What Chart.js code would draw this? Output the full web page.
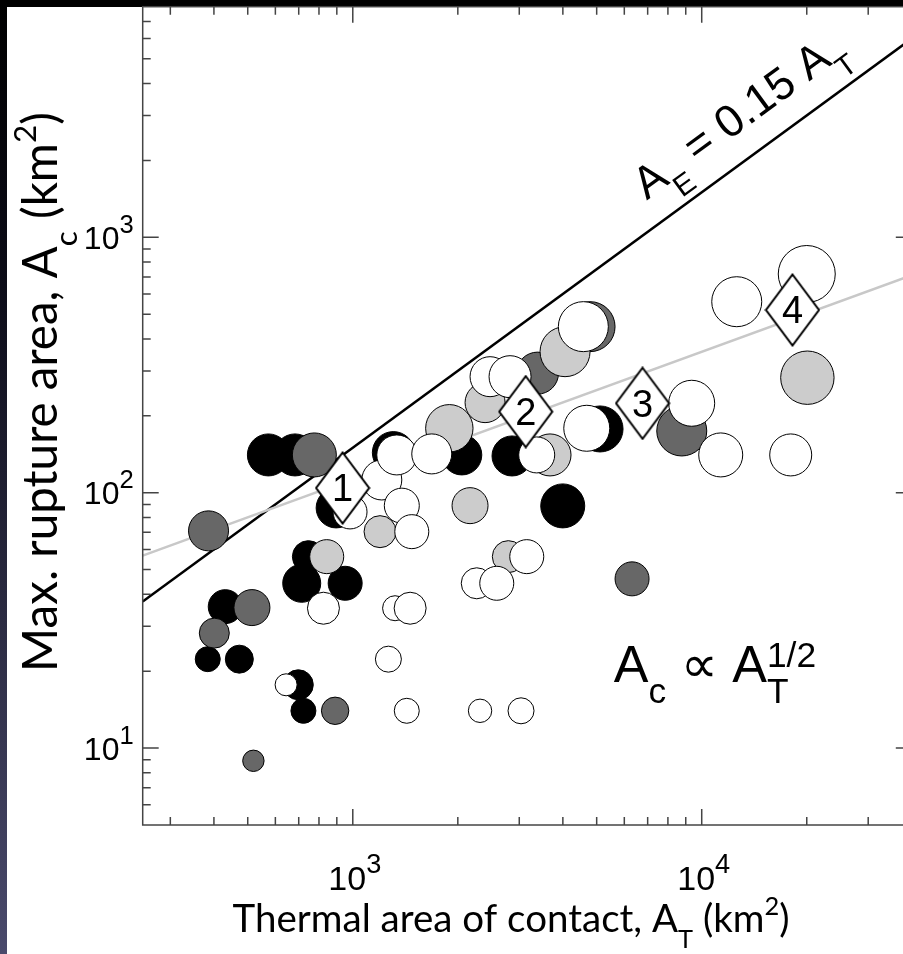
<!DOCTYPE html>
<html>
<head>
<meta charset="utf-8">
<script src="https://cdn.jsdelivr.net/npm/chart.js@4.4.1/dist/chart.umd.min.js"></script>
<style>
html, body { margin: 0; padding: 0; background: #fff; overflow: hidden; }
#wrap { position: relative; width: 903px; height: 954px; overflow: hidden; }
#rupture { display: block; position: absolute; left: 0; top: 0; }
</style>
</head>
<body>
<div id="wrap"><canvas id="rupture" width="960" height="954"></canvas></div>
<script>
// axis ranges, km^2
const x_min = 250
const x_max = 40000
const y_min = 5
const y_max = 8000
const x_tick_values = [1000, 10000]
const y_tick_values = [10, 100, 1000]

// events grouped by fill shade: thermal area A_T, max rupture area A_c, bubble size
const black_x = [573, 683, 896, 1307, 2053, 2860, 5112, 3997, 746, 714, 951, 431, 384, 473, 698, 722]
const black_y = [140.6, 140.6, 87.2, 143.6, 140.6, 139.3, 177.7, 88.8, 56.2, 44.2, 44.2, 35.8, 22.3, 22.3, 17.7, 14.0]
const black_r = [21, 21, 20, 21, 20, 20, 23, 22, 16, 19, 17, 17, 12.5, 14, 15, 12.5]

const dark_x = [776, 386, 514, 401, 890, 519, 3384, 4786, 8766, 6315]
const dark_y = [140.6, 70.9, 35.5, 28.2, 14.0, 8.92, 294, 447, 174.5, 46.0]
const dark_r = [22, 20, 18, 15, 13.7, 10.7, 21, 25, 25, 17]

const light_x = [1891, 2394, 4058, 3675, 2168, 1197, 842, 2791, 20080]
const light_y = [178.8, 225.3, 356.7, 140.6, 89.0, 70.4, 56.2, 56.2, 282.1]
const light_r = [23.7, 20, 25, 21, 18, 16, 17, 16, 26.7]

const white_x = [1211, 982, 1337, 1684, 2474, 2823, 4579, 4683, 3366, 1382, 1476, 3152, 2266, 2586,
    824, 1322, 1460, 1265, 644, 1428, 2316, 3035, 9360, 11336, 17990, 12600, 20000]
const white_y = [112.2, 84.1, 140.6, 141.9, 284.7, 284.7, 447, 178.8, 140.6, 89.0, 70.4, 56.2, 44.2, 44.2,
    35.3, 35.3, 35.3, 22.3, 17.7, 14.0, 14.0, 14.0, 224, 140.6, 140.6, 559.7, 718.5]
const white_r = [20, 17, 20, 20, 20, 21, 25, 23, 18, 17.5, 17, 17, 15.5, 17,
    16, 12.5, 16, 13, 11, 12.5, 11.7, 13, 23, 22, 21, 25, 28.5]

// numbered cases
const case_x = [935, 3131, 6767, 18200]
const case_y = [104.4, 207.7, 224, 519.5]
const case_labels = ['1', '2', '3', '4']

// reference lines
const line_x = [250, 40000]
const fit_y = [56.7, 711]       // A_c ~ A_T^(1/2)
const limit_y = [37.5, 6000]    // A_E = 0.15 A_T
const limit_label_at = 7700     // A_T where the line label sits
const fit_label_at = [5600, 18.2]


const tick_font = '"Liberation Sans", Arial, sans-serif'
const title_font = 'Lato, "Open Sans", sans-serif'
const note_font = '"Liberation Sans", "DejaVu Sans", sans-serif'

function points(xs, ys, rs) {
    return xs.map((x, i) => rs ? {x: x, y: ys[i], r: rs[i]} : {x: x, y: ys[i]})
}

function log_ticks(min, max) {
    const out = []
    for (let e = Math.floor(Math.log10(min)); e <= Math.ceil(Math.log10(max)); e++) {
        for (let k = 1; k <= 9; k++) {
            const v = k * Math.pow(10, e)
            if (v > min * 1.001 && v < max * 0.999) out.push({value: v, major: k === 1})
        }
    }
    return out
}

function diamond_image(w, h) {
    const c = document.createElement('canvas')
    c.width = w
    c.height = h
    const g = c.getContext('2d')
    g.beginPath()
    g.moveTo(w / 2, 1.5)
    g.lineTo(w - 1.5, h / 2)
    g.lineTo(w / 2, h - 1.5)
    g.lineTo(1.5, h / 2)
    g.closePath()
    g.fillStyle = '#fff'
    g.fill()
    g.lineWidth = 2
    g.strokeStyle = '#000'
    g.stroke()
    return c
}

// pieces: [text, kind, hold]; kind is '', 'sub' or 'sup'; hold keeps the pen where it is
function rich_layout(ctx, pieces, size, family, o) {
    o = Object.assign({scale: 0.66, drop: 0.42, raise: 0.45}, o || {})
    let pen = 0
    let total = 0
    const parts = pieces.map(([t, kind, hold]) => {
        const s = kind ? size * o.scale : size
        ctx.font = s + 'px ' + family
        const w = ctx.measureText(t).width
        const dy = kind === 'sub' ? size * o.drop : kind === 'sup' ? -size * o.raise : 0
        const p = {t: t, s: s, dx: pen, dy: dy}
        total = Math.max(total, pen + w)
        if (!hold) pen += w
        return p
    })
    return {parts: parts, width: total}
}

function draw_rich(ctx, pieces, x, y, size, family, align, angle, o) {
    const lay = rich_layout(ctx, pieces, size, family, o)
    const start = align === 'center' ? -lay.width / 2 : align === 'right' ? -lay.width : 0
    ctx.save()
    ctx.translate(x, y)
    ctx.rotate(angle || 0)
    ctx.textAlign = 'left'
    ctx.textBaseline = 'alphabetic'
    ctx.fillStyle = '#000'
    for (const p of lay.parts) {
        ctx.font = p.s + 'px ' + family
        ctx.fillText(p.t, start + p.dx, p.dy)
    }
    ctx.restore()
}

function fit_size(ctx, pieces, family, target) {
    return 100 * target / rich_layout(ctx, pieces, 100, family).width
}

const y_title = [['Max. rupture area, A', ''], ['c', 'sub'], [' (km', ''], ['2', 'sup'], [')', '']]
const x_title = [['Thermal area of contact, A', ''], ['T', 'sub'], [' (km', ''], ['2', 'sup'], [')', '']]
const limit_text = [['A', ''], ['E', 'sub'], [' = 0.15 A', ''], ['T', 'sub']]
const fit_text = [['A', ''], ['c', 'sub'], [' \u221D A', ''], ['1/2', 'sup', true], ['T', 'sub']]
const tick_sup = {scale: 0.8, raise: 0.5}

const backdrop = {
    id: 'backdrop',
    beforeDraw(chart) {
        const ctx = chart.ctx
        ctx.save()
        ctx.fillStyle = '#fff'
        ctx.fillRect(0, 0, chart.width, chart.height)
        ctx.fillStyle = '#000'
        ctx.fillRect(0, 0, chart.width, 7)
        const g = ctx.createLinearGradient(0, 0, 0, chart.height)
        g.addColorStop(0, '#000')
        g.addColorStop(0.3, '#0c0c18')
        g.addColorStop(1, '#4a4a6c')
        ctx.fillStyle = g
        ctx.fillRect(0, 0, 7, chart.height)
        ctx.restore()
    }
}

const frame = {
    id: 'frame',
    afterDatasetsDraw(chart) {
        const ctx = chart.ctx
        const a = chart.chartArea
        const xs = chart.scales.x
        const ys = chart.scales.y
        ctx.save()
        ctx.strokeStyle = '#444'
        ctx.lineWidth = 1.5
        ctx.strokeRect(a.left, a.top, a.right - a.left, a.bottom - a.top)
        ctx.beginPath()
        for (const t of log_ticks(x_min, x_max)) {
            const px = xs.getPixelForValue(t.value)
            const len = t.major ? 16 : 8
            ctx.moveTo(px, a.bottom)
            ctx.lineTo(px, a.bottom - len)
            ctx.moveTo(px, a.top)
            ctx.lineTo(px, a.top + len)
        }
        for (const t of log_ticks(y_min, y_max)) {
            const py = ys.getPixelForValue(t.value)
            const len = t.major ? 16 : 8
            ctx.moveTo(a.left, py)
            ctx.lineTo(a.left + len, py)
            ctx.moveTo(a.right, py)
            ctx.lineTo(a.right - len, py)
        }
        ctx.stroke()
        ctx.restore()

        // tick labels as powers of ten
        for (const v of x_tick_values) {
            const e = String(Math.round(Math.log10(v)))
            draw_rich(ctx, [['10', ''], [e, 'sup']], xs.getPixelForValue(v) + 2, a.bottom + 65, 34, tick_font, 'center', 0, tick_sup)
        }
        for (const v of y_tick_values) {
            const e = String(Math.round(Math.log10(v)))
            draw_rich(ctx, [['10', ''], [e, 'sup']], a.left - 9, ys.getPixelForValue(v) + 11.5, 32, tick_font, 'right', 0, tick_sup)
        }

        // axis titles
        const ys_size = fit_size(ctx, y_title, title_font, 560)
        draw_rich(ctx, y_title, 57, 392, ys_size, title_font, 'center', -Math.PI / 2)
        const xs_size = fit_size(ctx, x_title, title_font, 557)
        draw_rich(ctx, x_title, 511, a.bottom + 107, xs_size, title_font, 'center')

        // label along the A_E = 0.15 A_T line
        const p0 = {x: xs.getPixelForValue(line_x[0]), y: ys.getPixelForValue(limit_y[0])}
        const p1 = {x: xs.getPixelForValue(line_x[1]), y: ys.getPixelForValue(limit_y[1])}
        const ang = Math.atan2(p1.y - p0.y, p1.x - p0.x)
        const ax = xs.getPixelForValue(limit_label_at)
        const ay = ys.getPixelForValue(limit_label_at * limit_y[1] / line_x[1])
        const off = 26
        draw_rich(ctx, limit_text, ax + off * Math.sin(ang), ay - off * Math.cos(ang), 45, note_font, 'left', ang)

        // scaling law note
        draw_rich(ctx, fit_text, xs.getPixelForValue(fit_label_at[0]), ys.getPixelForValue(fit_label_at[1]),
            52, note_font, 'left', 0, {scale: 0.68, drop: 0.4, raise: 0.28})

        // numbers inside the diamonds
        const meta = chart.getDatasetMeta(chart.data.datasets.length - 1)
        ctx.save()
        ctx.fillStyle = '#000'
        ctx.font = '38px ' + tick_font
        ctx.textAlign = 'center'
        ctx.textBaseline = 'alphabetic'
        meta.data.forEach((pt, i) => ctx.fillText(case_labels[i], pt.x, pt.y + 13.5))
        ctx.restore()
    }
}

new Chart(
    document.getElementById('rupture'),
    {
        type: 'bubble',
        data: {
            datasets: [
                {
                    type: 'scatter',
                    data: points(line_x, limit_y),
                    showLine: true,
                    borderColor: '#000',
                    borderWidth: 2.5,
                    pointRadius: 0,
                    order: 7
                },
                {
                    type: 'scatter',
                    data: points(line_x, fit_y),
                    showLine: true,
                    borderColor: '#c8c8c8',
                    borderWidth: 2.5,
                    pointRadius: 0,
                    order: 6
                },
                {
                    data: points(black_x, black_y, black_r),
                    backgroundColor: '#000',
                    borderColor: '#000',
                    borderWidth: 1,
                    order: 5
                },
                {
                    data: points(dark_x, dark_y, dark_r),
                    backgroundColor: '#676767',
                    borderColor: '#000',
                    borderWidth: 1,
                    order: 4
                },
                {
                    data: points(light_x, light_y, light_r),
                    backgroundColor: '#cccccc',
                    borderColor: '#000',
                    borderWidth: 1,
                    order: 3
                },
                {
                    data: points(white_x, white_y, white_r),
                    backgroundColor: '#fff',
                    borderColor: '#000',
                    borderWidth: 1,
                    order: 2
                },
                {
                    type: 'scatter',
                    data: points(case_x, case_y),
                    pointStyle: diamond_image(56, 74),
                    pointRadius: 5,
                    order: 1
                }
            ]
        },
        options: {
            responsive: false,
            animation: false,
            devicePixelRatio: 1,
            events: [],
            layout: {
                autoPadding: false,
                // the right frame edge sits just past the visible 903 px
                padding: {left: 142.7, top: 6.7, right: 48.2, bottom: 129}
            },
            plugins: {
                legend: {display: false},
                tooltip: {enabled: false}
            },
            scales: {
                x: {
                    type: 'logarithmic',
                    display: false,
                    bounds: 'data',
                    min: x_min,
                    max: x_max
                },
                y: {
                    type: 'logarithmic',
                    display: false,
                    bounds: 'data',
                    min: y_min,
                    max: y_max
                }
            }
        },
        plugins: [backdrop, frame]
    }
)
</script>
</body>
</html>
